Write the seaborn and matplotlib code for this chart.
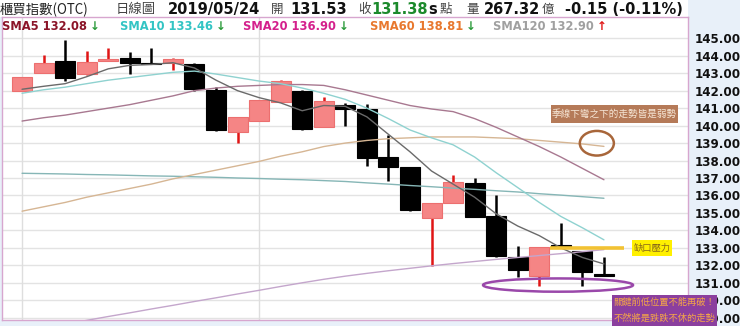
import matplotlib
matplotlib.use("Agg")
import matplotlib.pyplot as plt
import seaborn as sns
import pandas as pd
from matplotlib.patches import Rectangle, Ellipse
from matplotlib.transforms import Affine2D

# ---------------- data ----------------
day_index = list(range(28))
opens  = [142.00, 143.00, 143.72, 142.95, 143.72, 143.89, 143.57, 143.57, 143.53, 142.04,
          139.62, 140.28, 141.37, 142.00, 139.90, 141.18, 140.93, 138.22, 137.65, 134.69,
          135.58, 136.70, 134.84, 132.49, 131.39, 133.16, 132.84, 131.53]
highs  = [142.80, 144.05, 144.90, 144.27, 144.46, 144.20, 144.43, 143.86, 143.60, 142.20,
          140.51, 141.47, 142.62, 142.03, 141.62, 141.31, 141.24, 139.46, 137.65, 135.55,
          137.17, 137.02, 136.03, 133.12, 133.03, 134.44, 132.84, 132.45]
lows   = [142.00, 143.00, 142.57, 142.90, 143.72, 142.94, 143.50, 143.18, 141.98, 139.69,
          139.00, 140.25, 141.37, 139.75, 139.90, 140.00, 137.69, 136.84, 135.10, 131.96,
          135.58, 134.75, 132.50, 131.31, 130.83, 133.06, 130.83, 131.38]
closes = [142.80, 143.60, 142.74, 143.62, 143.80, 143.57, 143.52, 143.81, 142.10, 139.75,
          140.51, 141.47, 142.57, 139.80, 141.43, 140.93, 138.13, 137.61, 135.17, 135.55,
          136.75, 134.78, 132.53, 131.73, 133.03, 133.06, 131.63, 131.38]

sma5   = [142.08, 142.25, 142.40, 142.80, 143.25, 143.45, 143.50, 143.60, 143.30, 142.60,
          142.00, 141.60, 141.30, 140.85, 141.15, 141.10, 140.50, 139.50, 138.50, 137.40,
          136.65, 135.90, 134.95, 134.25, 133.70, 133.00, 132.45, 132.08]
sma10  = [141.85, 142.05, 142.20, 142.40, 142.60, 142.75, 142.90, 143.05, 143.12, 142.95,
          142.75, 142.55, 142.40, 142.15, 141.85, 141.50, 141.00, 140.40, 139.75, 139.30,
          138.90, 138.20, 137.30, 136.45, 135.60, 134.80, 134.15, 133.46]
sma20  = [140.26, 140.45, 140.60, 140.80, 141.00, 141.20, 141.45, 141.70, 142.00, 142.15,
          142.25, 142.30, 142.35, 142.35, 142.30, 142.05, 141.75, 141.45, 141.15, 140.95,
          140.80, 140.40, 139.90, 139.35, 138.80, 138.20, 137.55, 136.90]
sma60  = [135.10, 135.35, 135.60, 135.90, 136.15, 136.40, 136.65, 136.95, 137.20, 137.45,
          137.70, 137.95, 138.25, 138.50, 138.80, 139.00, 139.15, 139.25, 139.30, 139.35,
          139.35, 139.35, 139.30, 139.25, 139.15, 139.05, 138.95, 138.81]
sma_long = [137.27, 137.25, 137.23, 137.20, 137.18, 137.15, 137.12, 137.10, 137.07, 137.04,
            137.00, 136.97, 136.93, 136.90, 136.85, 136.80, 136.72, 136.65, 136.57, 136.50,
            136.42, 136.35, 136.27, 136.20, 136.10, 136.02, 135.93, 135.84]
sma120 = [128.20, 128.42, 128.63, 128.85, 129.07, 129.28, 129.50, 129.71, 129.93, 130.14,
          130.36, 130.57, 130.79, 131.00, 131.20, 131.38, 131.54, 131.69, 131.83, 131.97,
          132.10, 132.22, 132.34, 132.45, 132.56, 132.67, 132.78, 132.90]

price_ticks = list(range(129, 146))
gap_level = 133.0

header_items = [  # text, x_px, color, bold, cjk
    ("櫃買指數(OTC)", 0, "#222222", False, True),
    ("日線圖", 116, "#444444", False, True),
    ("2019/05/24", 168, "#111111", True, False),
    ("開", 271, "#444444", False, True),
    ("131.53", 290, "#111111", True, False),
    ("收", 358, "#444444", False, True),
    ("131.38", 371, "#1c8a2c", True, False),
    ("s", 428, "#111111", True, False),
    ("點", 440, "#444444", False, True),
    ("量", 466, "#444444", False, True),
    ("267.32", 484, "#111111", True, False),
    ("億", 542, "#444444", False, True),
    ("-0.15 (-0.11%)", 565, "#111111", True, False),
]
sma_labels = [  # text, x_px, color, arrow, arrow_color
    ("SMA5 132.08", 2, "#8b1428", "↓", "#2a9a3a"),
    ("SMA10 133.46", 120, "#33c4c4", "↓", "#2a9a3a"),
    ("SMA20 136.90", 243, "#d4208c", "↓", "#2a9a3a"),
    ("SMA60 138.81", 370, "#e8782e", "↓", "#2a9a3a"),
    ("SMA120 132.90", 493, "#a0a0a0", "↑", "#e01818"),
]

# ---------------- figure ----------------
sns.set_theme(style="white")
plt.rcParams['font.family'] = ['DejaVu Sans', 'Noto Sans CJK TC']
CJK = ['Noto Sans CJK TC', 'DejaVu Sans']

W, H = 740, 326
fig = plt.figure(figsize=(W / 100, H / 100), dpi=100, facecolor='#e8f0f9')
pix = Affine2D().scale(1 / W, -1 / H).translate(0, 1) + fig.transFigure
fig.add_artist(Rectangle((0, 0), 688, 17.3, transform=pix, facecolor='white',
                         edgecolor='none', zorder=-5))

ax = fig.add_axes([2 / W, 1 - 320 / H, 686 / W, (320 - 17.3) / H])
ax.set_facecolor('white')
ax.set_xlim(-0.93, 30.9)
ax.set_ylim(128.87, 146.2)

for v in price_ticks:
    ax.axhline(v, color='#e3e3e3', lw=1, zorder=0)
for xv in (0, 11):
    ax.axvline(xv, color='#dedede', lw=1, zorder=0)

# candles
for i, o, h, l, c in zip(day_index, opens, highs, lows, closes):
    up = c >= o
    wick = '#e01515' if up else '#000000'
    ax.vlines(i, l, h, color=wick, lw=1.8, zorder=2)
    body = max(abs(c - o), 0.05)
    ax.bar(i, body, bottom=min(o, c), width=0.93,
           color='#f58585' if up else '#000000',
           edgecolor='#ec6f6f' if up else '#000000', linewidth=0.8, zorder=3)

# moving averages
lines = [(sma120, '#c4a6cc'), (sma_long, '#86b6b6'), (sma60, '#d6b694'),
         (sma20, '#a87890'), (sma10, '#8fd2d0'), (sma5, '#6a6a6a')]
for arr, col in lines:
    df = pd.DataFrame({'day': day_index, 'v': arr})
    sns.lineplot(data=df, x='day', y='v', ax=ax, color=col, lw=1.0, zorder=4)

ax.set_xlabel('')
ax.set_ylabel('')
ax.set_xticks([])
ax.yaxis.tick_right()
ax.set_yticks(price_ticks)
ax.set_yticklabels([f"{v:.2f}" for v in price_ticks], fontweight='bold',
                   fontsize=8.6, color='#111111')
ax.tick_params(axis='y', length=0, pad=4.5)
for s in ax.spines.values():
    s.set_color('#d7a6cf')
    s.set_linewidth(1)
    s.set_visible(True)

# annotations (data coordinates)
ax.add_patch(Ellipse((26.67, 138.99), 1.58, 1.41, fill=False, edgecolor='#a8663a',
                     lw=1.8, zorder=6))
ax.add_patch(Ellipse((24.87, 130.87), 6.96, 0.76, fill=False, edgecolor='#9a48aa',
                     lw=1.8, zorder=6))
ax.hlines(gap_level, 24.5, 27.93, color='#f2c233', lw=2.6, zorder=6)

# header rows
for txt, x, col, bold, cjk in header_items:
    fig.text(x / W, 1 - 9.5 / H, txt, ha='left', va='center', color=col,
             fontsize=10.5 if bold else (9.6 if len(txt) > 1 else 9),
             fontweight='bold' if bold else 'normal',
             family=CJK if cjk else ['DejaVu Sans', 'Noto Sans CJK TC'])

renderer = fig.canvas.get_renderer()
for txt, x, col, arr, acol in sma_labels:
    t = fig.text(x / W, 1 - 27 / H, txt, ha='left', va='center', color=col,
                 fontsize=8.3, fontweight='bold')
    bb = t.get_window_extent(renderer=renderer)
    fig.text((bb.x1 + 2.5) / W, 1 - 27 / H, arr, ha='left', va='center', color=acol,
             fontsize=8.6, fontweight='bold')

# callout boxes (pixel coordinates)
fig.add_artist(Rectangle((551, 104.5), 127, 18, transform=pix, facecolor='#b57a58',
                         edgecolor='none', zorder=5))
fig.text(614.5 / W, 1 - 114 / H, "季線下彎之下的走勢皆是弱勢", ha='center', va='center',
         color='#f6e6d6', fontsize=6.9, family=CJK, zorder=6)

fig.add_artist(Rectangle((632, 240), 40, 15.5, transform=pix, facecolor='#fff000',
                         edgecolor='none', zorder=5))
fig.text(652 / W, 1 - 248 / H, "缺口壓力", ha='center', va='center',
         color='#8a6a1a', fontsize=6.7, family=CJK, zorder=6)

fig.add_artist(Rectangle((612, 294.5), 105, 32, transform=pix, facecolor='#8b3f9e',
                         edgecolor='none', zorder=5))
fig.text(664.5 / W, 1 - 302 / H, "關鍵前低位置不能再破！", ha='center', va='center',
         color='#f4a648', fontsize=6.7, family=CJK, zorder=6)
fig.text(664.5 / W, 1 - 318 / H, "不然將是跌跌不休的走勢", ha='center', va='center',
         color='#f4a648', fontsize=6.7, family=CJK, zorder=6)

fig.savefig("out.png", dpi=100, facecolor=fig.get_facecolor())
